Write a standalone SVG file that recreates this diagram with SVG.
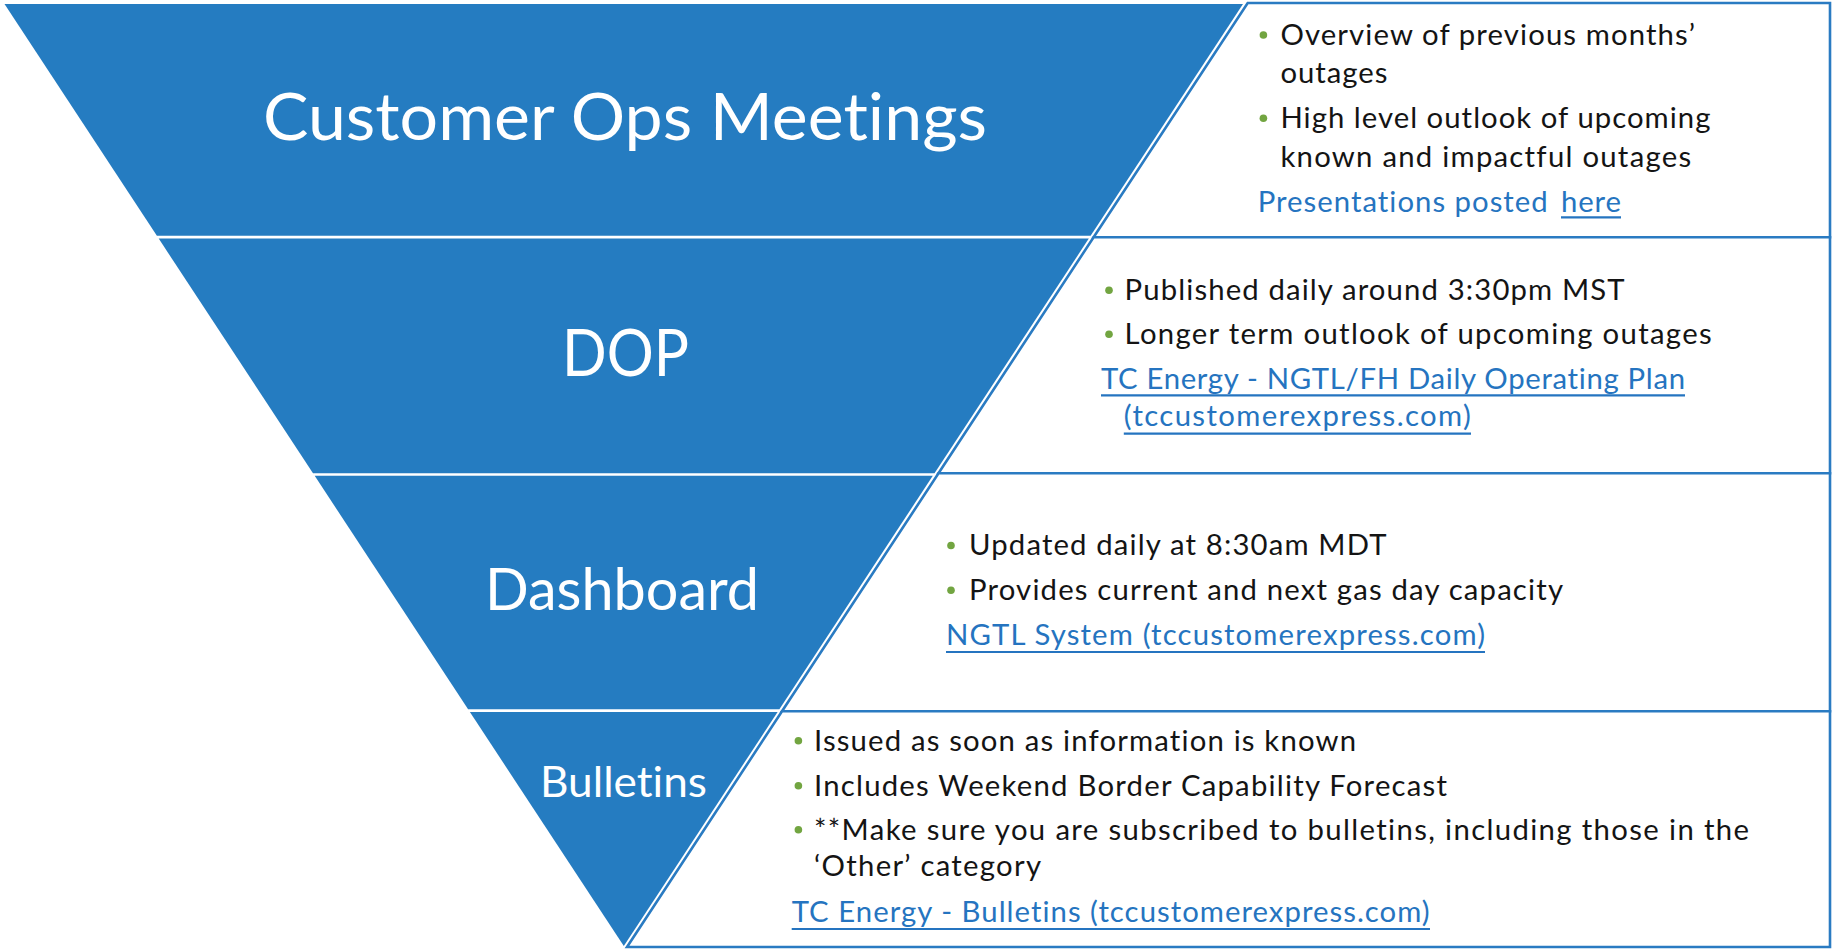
<svg xmlns="http://www.w3.org/2000/svg" width="1832" height="949" viewBox="0 0 1832 949">
<style>
.band{fill:#257CC1;}
.box{fill:#FFFFFF;stroke:#2A7BC2;stroke-width:2.6;stroke-linejoin:miter;}
.title{font-family:Lato,"Liberation Sans",sans-serif;fill:#FFFFFF;text-anchor:middle;font-variant-ligatures:none;}
.t{font-family:Lato,"Liberation Sans",sans-serif;font-size:29.3px;fill:#141414;font-variant-ligatures:none;}
.lnk{font-family:Lato,"Liberation Sans",sans-serif;font-size:29.3px;fill:#2574C0;font-variant-ligatures:none;}
.ul{stroke:#2574C0;stroke-width:2.2;}
.dot{fill:#72A541;}
</style>
<rect x="0" y="0" width="1832" height="949" fill="#FFFFFF"/>

<g id="node-customer-ops">
  <polygon class="band" points="4.5,4 1243,4 1090.6,235.8 156.9,235.8"/>
  <text class="title" x="625" y="140" font-size="65.6" textLength="724" lengthAdjust="spacingAndGlyphs">Customer Ops Meetings</text>
</g>
<g id="node-dop">
  <polygon class="band" points="158.7,238.6 1088.8,238.6 934.5,473.2 313,473.2"/>
  <text class="title" x="625.5" y="376" font-size="65.6" textLength="127" lengthAdjust="spacingAndGlyphs">DOP</text>
</g>
<g id="node-dashboard">
  <polygon class="band" points="314.7,475.8 932.8,475.8 779.4,709.2 468.1,709.2"/>
  <text class="title" x="622" y="610" font-size="58.5" textLength="274" lengthAdjust="spacingAndGlyphs">Dashboard</text>
</g>
<g id="node-bulletins">
  <polygon class="band" points="469.9,712 777.6,712 623.8,946"/>
  <text class="title" x="623.5" y="797" font-size="42" textLength="167" lengthAdjust="spacingAndGlyphs">Bulletins</text>
</g>

<g id="info-customer-ops">
  <path class="box" d="M1247.7,3 H1830 V237.3 H1093.6 Z"/>
  <circle class="dot" cx="1263.4" cy="35" r="3.8"/>
  <text class="t" x="1280.4" y="45" textLength="414.5">Overview of previous months’</text>
  <text class="t" x="1280.4" y="83" textLength="107">outages</text>
  <circle class="dot" cx="1263.4" cy="118.3" r="3.8"/>
  <text class="t" x="1280.4" y="128.3" textLength="430">High level outlook of upcoming</text>
  <text class="t" x="1280.4" y="166.7" textLength="410.7">known and impactful outages</text>
  <text class="lnk" x="1257.7" y="211.7" textLength="290">Presentations posted</text>
  <text class="lnk" x="1561" y="211.7" textLength="60">here</text>
  <line class="ul" x1="1561" y1="217.3" x2="1621" y2="217.3"/>
</g>

<g id="info-dop">
  <path class="box" d="M1093.6,237.3 H1830 V473.3 H938.5 Z"/>
  <circle class="dot" cx="1109" cy="290.3" r="3.8"/>
  <text class="t" x="1124.6" y="300.3" textLength="500">Published daily around 3:30pm MST</text>
  <circle class="dot" cx="1109" cy="334.3" r="3.8"/>
  <text class="t" x="1124.6" y="344.3" textLength="587">Longer term outlook of upcoming outages</text>
  <text class="lnk" x="1101" y="388.7" textLength="584">TC Energy - NGTL/FH Daily Operating Plan</text>
  <line class="ul" x1="1101" y1="395.3" x2="1685" y2="395.3"/>
  <text class="lnk" x="1123.8" y="426" textLength="347">(tccustomerexpress.com)</text>
  <line class="ul" x1="1123.8" y1="433.7" x2="1471" y2="433.7"/>
</g>

<g id="info-dashboard">
  <path class="box" d="M938.5,473.3 H1830 V711.3 H782 Z"/>
  <circle class="dot" cx="951" cy="545.5" r="3.8"/>
  <text class="t" x="969" y="555.3" textLength="417.5">Updated daily at 8:30am MDT</text>
  <circle class="dot" cx="951" cy="590.3" r="3.8"/>
  <text class="t" x="969" y="600.3" textLength="594">Provides current and next gas day capacity</text>
  <text class="lnk" x="946" y="645" textLength="539">NGTL System (tccustomerexpress.com)</text>
  <line class="ul" x1="946" y1="652" x2="1485" y2="652"/>
</g>

<g id="info-bulletins">
  <path class="box" d="M782,711.3 H1830 V947 H627 Z"/>
  <circle class="dot" cx="798.4" cy="740.7" r="3.8"/>
  <text class="t" x="814" y="750.7" textLength="542">Issued as soon as information is known</text>
  <circle class="dot" cx="798.4" cy="785.7" r="3.8"/>
  <text class="t" x="814" y="795.7" textLength="633">Includes Weekend Border Capability Forecast</text>
  <circle class="dot" cx="798.4" cy="829.7" r="3.8"/>
  <text class="t" x="814" y="839.7" textLength="935">**Make sure you are subscribed to bulletins, including those in the</text>
  <text class="t" x="814" y="875.7" textLength="227">‘Other’ category</text>
  <text class="lnk" x="791.7" y="922.3" textLength="638">TC Energy - Bulletins (tccustomerexpress.com)</text>
  <line class="ul" x1="791.7" y1="929" x2="1430" y2="929"/>
</g>

<g id="connectors"></g>
</svg>
